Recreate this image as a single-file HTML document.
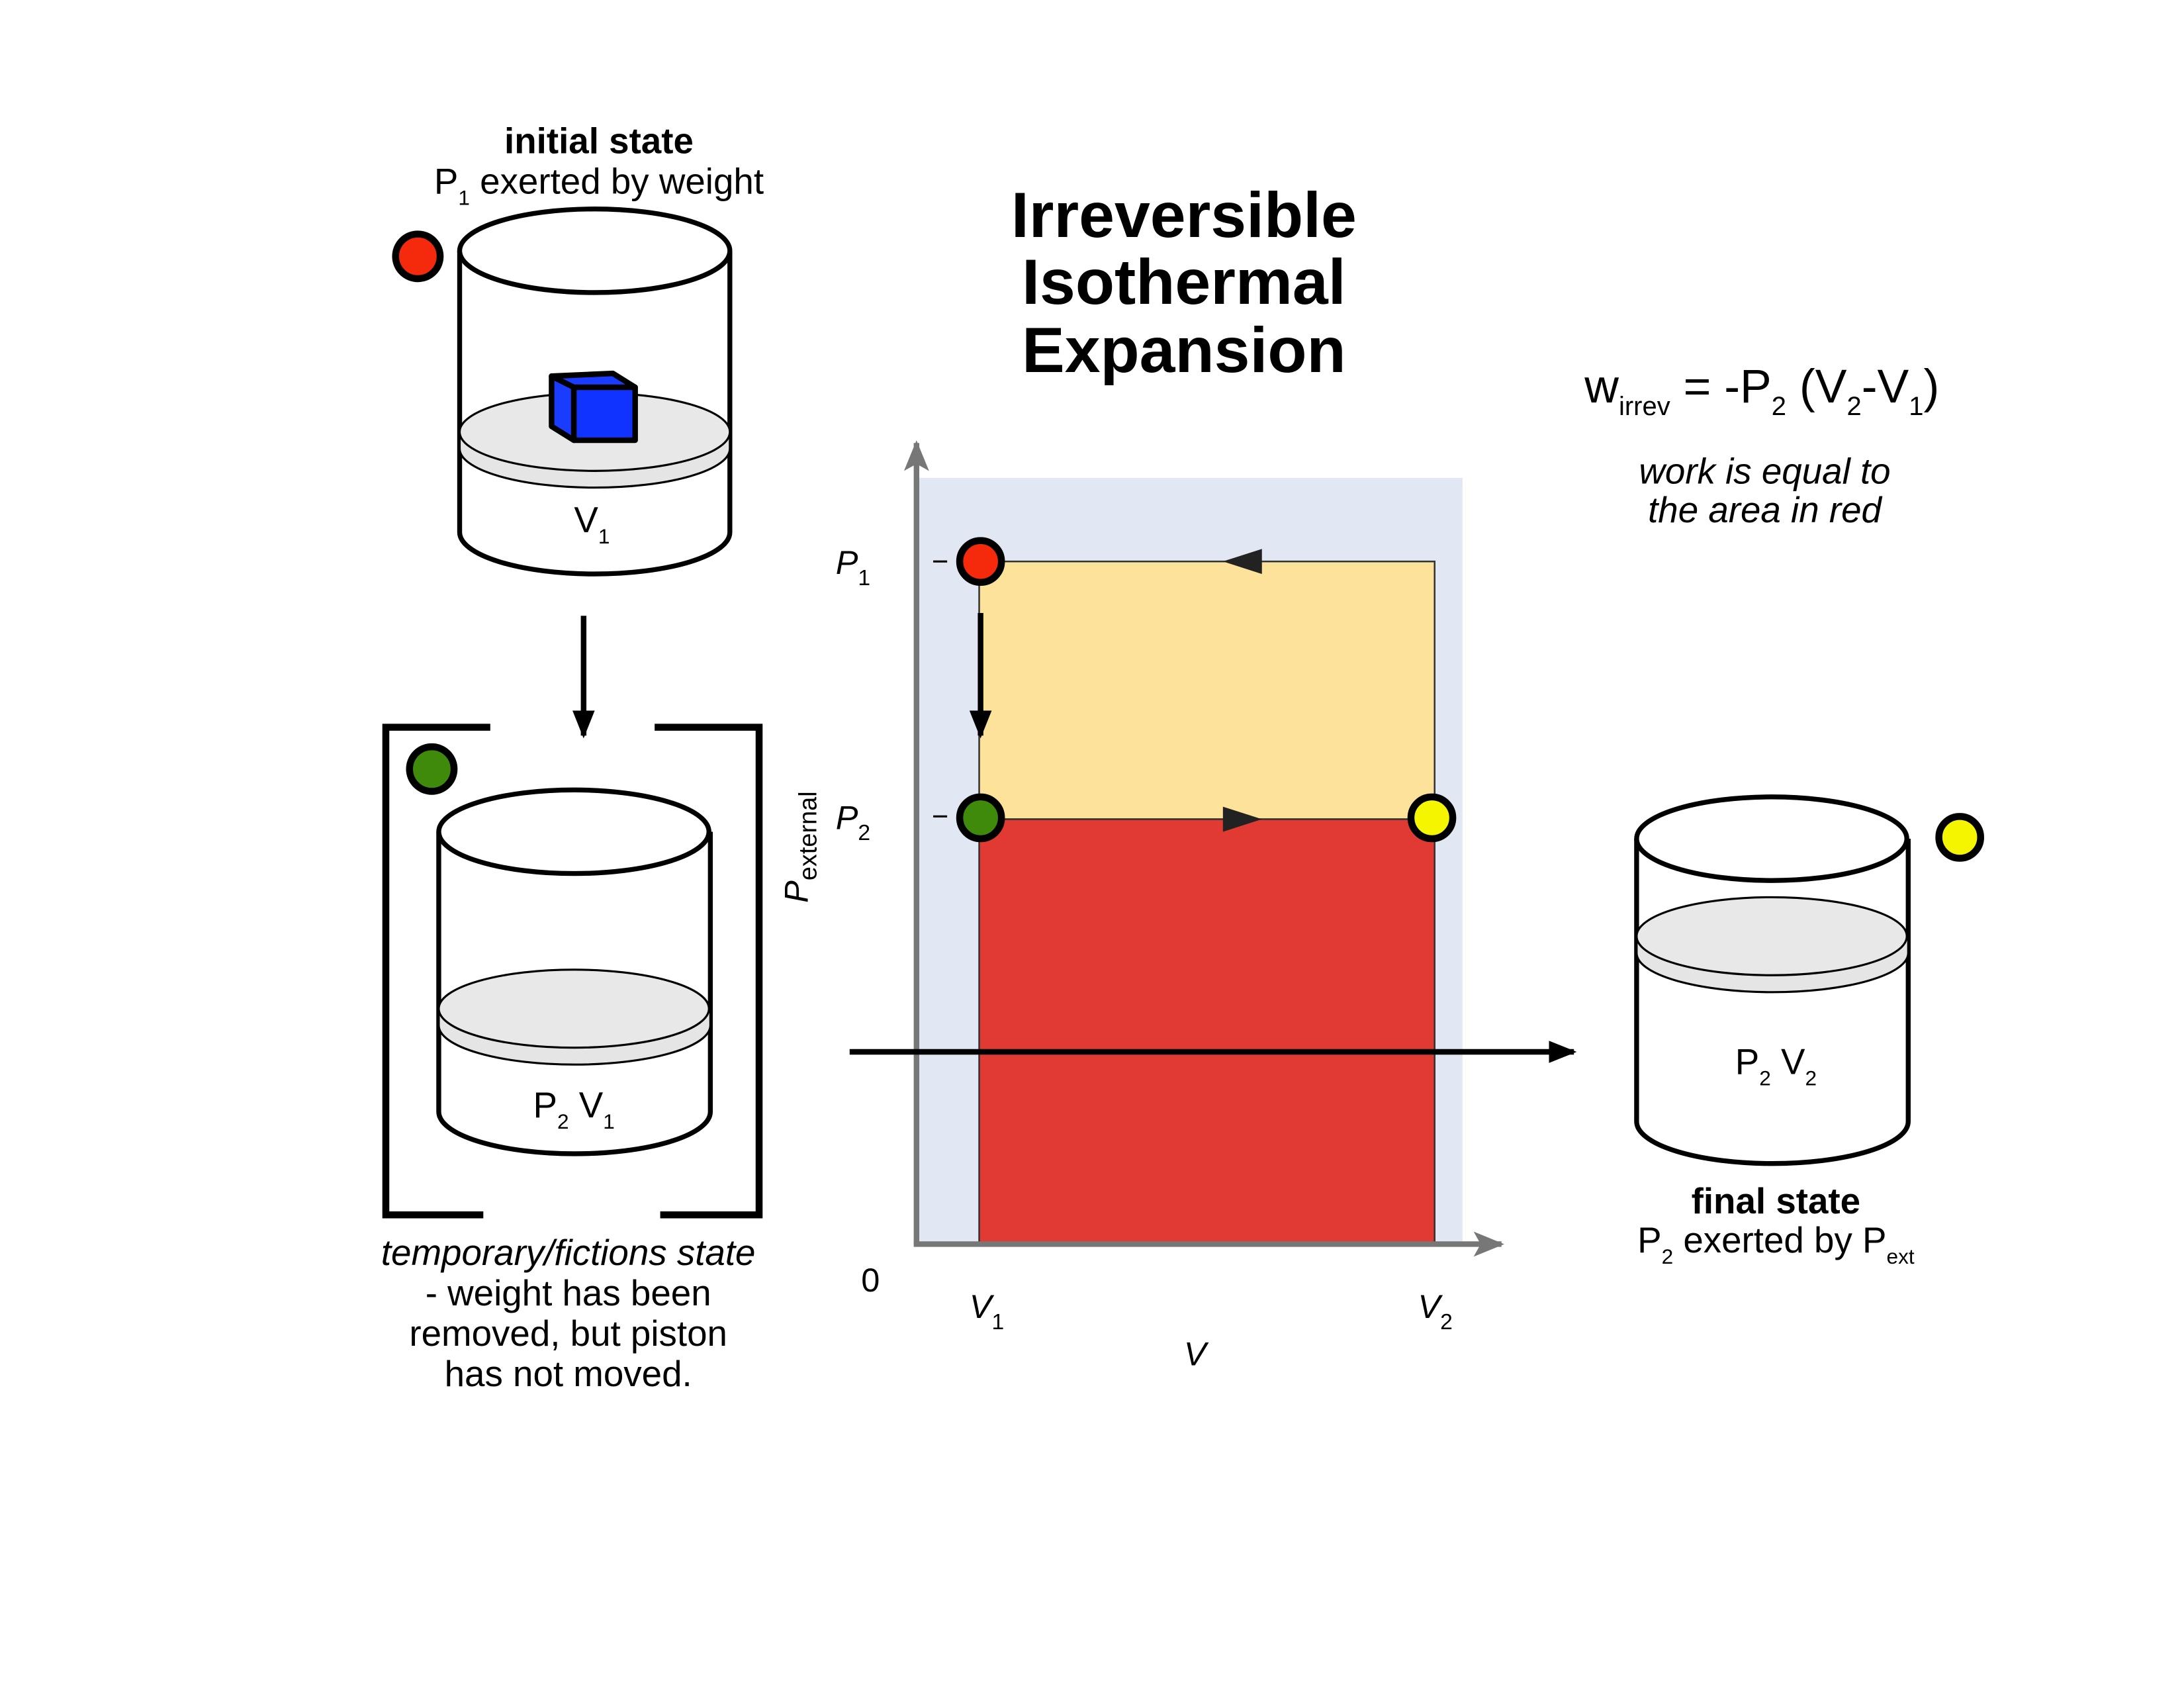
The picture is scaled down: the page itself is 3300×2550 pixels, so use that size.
<!DOCTYPE html>
<html><head><meta charset="utf-8"><style>
html,body{margin:0;padding:0;background:#fff;}
svg{display:block;}
text{font-family:"Liberation Sans",sans-serif;fill:#000;}
</style></head><body>
<svg width="3300" height="2550" viewBox="0 0 1568 1211.6" preserveAspectRatio="none" xmlns="http://www.w3.org/2000/svg">
<defs>
<marker id="ahb" markerWidth="20" markerHeight="16" refX="18" refY="8" orient="auto" markerUnits="userSpaceOnUse">
<path d="M0,0 L20,8 L0,16 z" fill="#000"/></marker>
<marker id="ahg" markerWidth="22" markerHeight="18" refX="20" refY="9" orient="auto" markerUnits="userSpaceOnUse">
<path d="M0,0 L22,9 L0,18 L5,9 z" fill="#777"/></marker>
</defs>

<g font-weight="bold" font-size="46" text-anchor="middle">
<text x="850" y="170">Irreversible</text>
<text x="850" y="218">Isothermal</text>
<text x="850" y="267">Expansion</text>
</g>

<text x="430" y="110" font-size="26" font-weight="bold" text-anchor="middle">initial state</text>
<text x="430" y="139" font-size="26" text-anchor="middle">P<tspan font-size="15" dy="8">1</tspan><tspan dy="-8"> exerted by weight</tspan></text>
<circle cx="300" cy="184" r="16" fill="#f52a0c" stroke="#000" stroke-width="5"/>
<g stroke="#000" stroke-width="3.5" fill="none">
<path d="M330,180 L330,382 A97,30 0 0 0 524,382 L524,180" fill="#fff"/>
<path d="M330,310 L330,322 A97,28 0 0 0 524,322 L524,310" fill="#e5e5e5" stroke-width="1.5"/>
<ellipse cx="427" cy="310" rx="97" ry="28" fill="#e8e8e8" stroke-width="1.5"/>
<ellipse cx="427" cy="180" rx="97" ry="30" fill="#fff"/>
</g>
<g stroke="#000" stroke-width="4" stroke-linejoin="round">
<path d="M396,270 L412,278 L456,278 L440,268 z" fill="#1a3cff"/>
<path d="M396,270 L396,306 L412,316 L412,278 z" fill="#1a3cff"/>
<rect x="412" y="278" width="44" height="38" fill="#1033ff"/>
</g>
<text x="425" y="382" font-size="26" text-anchor="middle">V<tspan font-size="15" dy="8">1</tspan></text>

<line x1="419" y1="442" x2="419" y2="528" stroke="#000" stroke-width="4" marker-end="url(#ahb)"/>

<g stroke="#000" stroke-width="5" fill="none">
<path d="M352,522 L277,522 L277,872 L347,872"/>
<path d="M470,522 L545,522 L545,872 L474,872"/>
</g>
<circle cx="310" cy="552" r="16" fill="#3f8a0a" stroke="#000" stroke-width="5"/>
<g stroke="#000" stroke-width="3.5" fill="none">
<path d="M315,597 L315,798 A97,30 0 0 0 510,798 L510,597" fill="#fff"/>
<path d="M315,724 L315,736 A97,28 0 0 0 510,736 L510,724" fill="#e5e5e5" stroke-width="1.5"/>
<ellipse cx="412" cy="724" rx="97" ry="28" fill="#e8e8e8" stroke-width="1.5"/>
<ellipse cx="412" cy="597" rx="97" ry="30" fill="#fff"/>
</g>
<text x="412" y="802" font-size="26" text-anchor="middle">P<tspan font-size="15" dy="8">2</tspan><tspan dy="-8">  V</tspan><tspan font-size="15" dy="8">1</tspan></text>
<g font-size="26" text-anchor="middle">
<text x="408" y="908" font-style="italic">temporary/fictions state</text>
<text x="408" y="937">- weight has been</text>
<text x="408" y="966">removed, but piston</text>
<text x="408" y="995">has not moved.</text>
</g>

<rect x="658" y="343" width="392" height="550" fill="#e1e8f4"/>
<rect x="703" y="403" width="327" height="185" fill="#fde39a" stroke="#333" stroke-width="1.2"/>
<rect x="703" y="588" width="327" height="305" fill="#e03a33" stroke="#333" stroke-width="1.2"/>
<line x1="658" y1="893" x2="658" y2="318" stroke="#777" stroke-width="4" marker-end="url(#ahg)"/>
<line x1="656" y1="893" x2="1078" y2="893" stroke="#777" stroke-width="4" marker-end="url(#ahg)"/>
<line x1="670" y1="403" x2="680" y2="403" stroke="#000" stroke-width="1.5"/>
<line x1="670" y1="586" x2="680" y2="586" stroke="#000" stroke-width="1.5"/>
<text x="600" y="412" font-size="24" font-style="italic">P<tspan font-size="16" dy="8" font-style="normal">1</tspan></text>
<text x="600" y="595" font-size="24" font-style="italic">P<tspan font-size="16" dy="8" font-style="normal">2</tspan></text>
<path d="M878,403 L906,394 L906,412 z" fill="#222"/>
<path d="M906,588 L878,579 L878,597 z" fill="#222"/>
<line x1="704" y1="440" x2="704" y2="528" stroke="#000" stroke-width="4" marker-end="url(#ahb)"/>
<circle cx="704" cy="403" r="15" fill="#f52a0c" stroke="#000" stroke-width="5"/>
<circle cx="704" cy="587" r="15" fill="#3f8a0a" stroke="#000" stroke-width="5"/>
<circle cx="1028" cy="587" r="15" fill="#f5f500" stroke="#000" stroke-width="5"/>
<text x="625" y="927" font-size="24" text-anchor="middle">0</text>
<text x="696" y="946" font-size="24" font-style="italic">V<tspan font-size="16" dy="8" font-style="normal">1</tspan></text>
<text x="1018" y="946" font-size="24" font-style="italic">V<tspan font-size="16" dy="8" font-style="normal">2</tspan></text>
<text x="858" y="980" font-size="24" font-style="italic" text-anchor="middle">V</text>
<text transform="translate(580,648) rotate(-90)" font-size="24" font-style="italic">P<tspan font-size="18" dy="6" font-style="normal">external</tspan></text>

<line x1="610" y1="755" x2="1130" y2="755" stroke="#000" stroke-width="4" marker-end="url(#ahb)"/>

<text x="1265" y="289" font-size="34" text-anchor="middle">w<tspan font-size="19" dy="9">irrev</tspan><tspan dy="-9"> = -P</tspan><tspan font-size="19" dy="9">2</tspan><tspan dy="-9"> (V</tspan><tspan font-size="19" dy="9">2</tspan><tspan dy="-9">-V</tspan><tspan font-size="19" dy="9">1</tspan><tspan dy="-9">)</tspan></text>
<text x="1267" y="347" font-size="26" font-style="italic" text-anchor="middle">work is equal to</text>
<text x="1267" y="375" font-size="26" font-style="italic" text-anchor="middle">the area in red</text>

<g stroke="#000" stroke-width="3.5" fill="none">
<path d="M1175,602 L1175,805 A97,30 0 0 0 1370,805 L1370,602" fill="#fff"/>
<path d="M1175,672 L1175,684 A97,28 0 0 0 1370,684 L1370,672" fill="#e5e5e5" stroke-width="1.5"/>
<ellipse cx="1272" cy="672" rx="97" ry="28" fill="#e8e8e8" stroke-width="1.5"/>
<ellipse cx="1272" cy="602" rx="97" ry="30" fill="#fff"/>
</g>
<text x="1275" y="771" font-size="26" text-anchor="middle">P<tspan font-size="15" dy="8">2</tspan><tspan dy="-8">  V</tspan><tspan font-size="15" dy="8">2</tspan></text>
<circle cx="1407" cy="601" r="15" fill="#f5f500" stroke="#000" stroke-width="5"/>
<text x="1275" y="871" font-size="26" font-weight="bold" text-anchor="middle">final state</text>
<text x="1275" y="899" font-size="26" text-anchor="middle">P<tspan font-size="15" dy="8">2</tspan><tspan dy="-8"> exerted by P</tspan><tspan font-size="15" dy="8">ext</tspan></text>
</svg>
</body></html>
